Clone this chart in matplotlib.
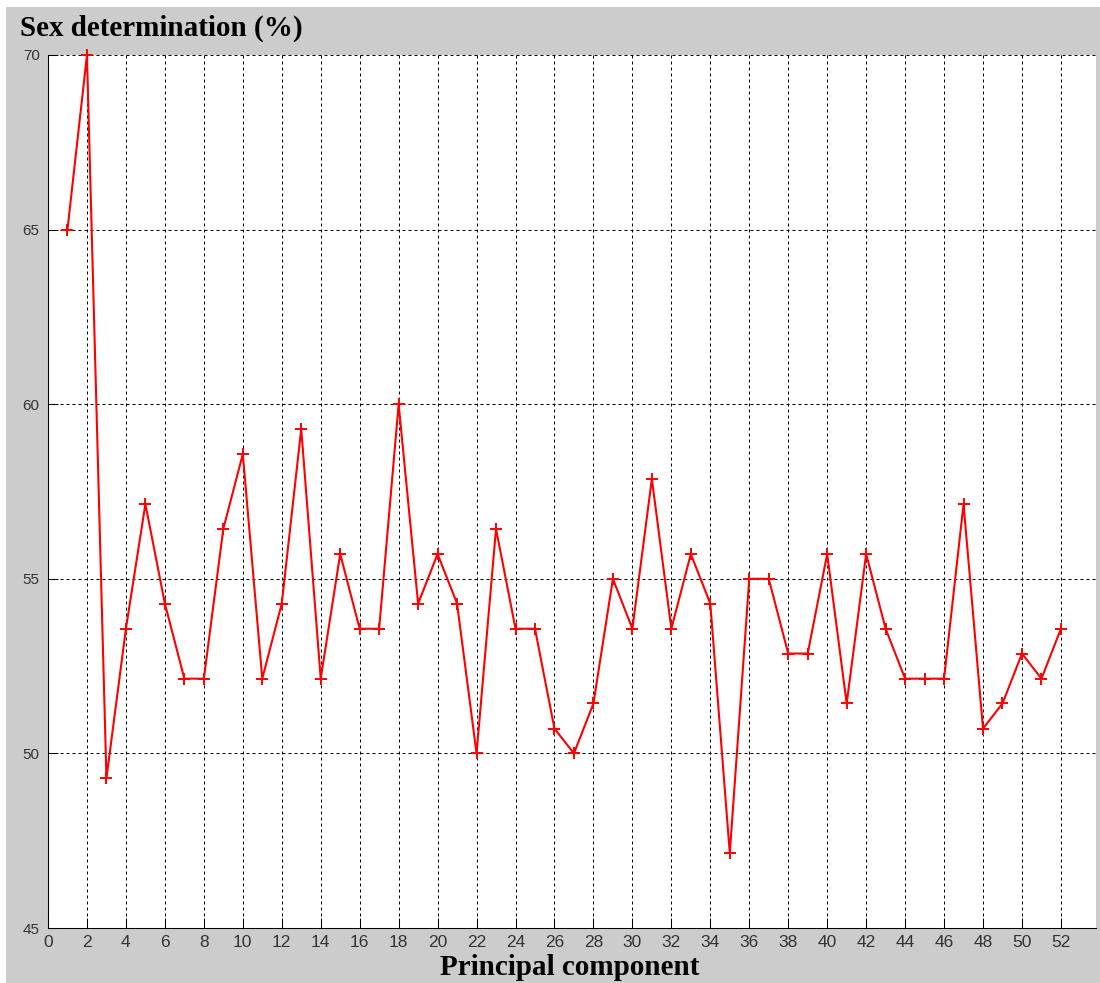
import matplotlib
matplotlib.use("Agg")
import matplotlib.pyplot as plt
from matplotlib.patches import Rectangle

# Classification rate for sex determination per number of principal components
components = list(range(1, 53))
rate = [65.00, 70.00, 49.29, 53.57, 57.14, 54.29, 52.14, 52.14, 56.43, 58.57,
        52.14, 54.29, 59.29, 52.14, 55.71, 53.57, 53.57, 60.00, 54.29, 55.71,
        54.29, 50.00, 56.43, 53.57, 53.57, 50.71, 50.00, 51.43, 55.00, 53.57,
        57.86, 53.57, 55.71, 54.29, 47.14, 55.00, 55.00, 52.86, 52.86, 55.71,
        51.43, 55.71, 53.57, 52.14, 52.14, 52.14, 57.14, 50.71, 51.43, 52.86,
        52.14, 53.57]

x_ticks = list(range(0, 53, 2))
y_ticks = [45, 50, 55, 60, 65, 70]

W, H = 1100, 983
fig = plt.figure(figsize=(W / 100, H / 100), dpi=100, facecolor="#cccccc")

# thin white margin along the top and left edges
fig.patches.append(Rectangle((0, 1 - 7 / H), 1, 7 / H, transform=fig.transFigure,
                             facecolor="white", edgecolor="none", zorder=0))
fig.patches.append(Rectangle((0, 0), 6 / W, 1, transform=fig.transFigure,
                             facecolor="white", edgecolor="none", zorder=0))

ax = fig.add_axes([48 / W, 1 - 928 / H, (1096 - 48) / W, (928 - 55) / H])
ax.set_facecolor("white")

ax.plot(components, rate, color="#ff0000", lw=1.5, marker="+", ms=8, mew=1.4,
        zorder=3, clip_on=False)

ax.set_xlim(0, 53.8)
ax.set_ylim(45, 70)
ax.set_xticks(x_ticks)
ax.set_yticks(y_ticks)

tick_font = ["Liberation Sans Narrow", "Liberation Sans"]
ax.set_xticklabels([str(t) for t in x_ticks], family=tick_font, fontsize=12.5,
                   color="#333333")
ax.set_yticklabels([str(t) for t in y_ticks], family=tick_font, fontsize=11,
                   color="#333333")

ax.tick_params(axis="both", direction="in", length=7.5, width=0.75, color="black")
ax.tick_params(axis="x", pad=5)
ax.tick_params(axis="y", pad=6)

for side in ("top", "right"):
    ax.spines[side].set_visible(False)
for side in ("left", "bottom"):
    ax.spines[side].set_linewidth(0.75)
    ax.spines[side].set_color("black")

ax.grid(True, color="black", lw=0.72, linestyle=(0, (3, 3)), zorder=1)
ax.set_axisbelow(True)

fig.text(20.5 / W, 1 - 36 / H, "Sex determination (%)", family="Liberation Serif",
         weight="bold", fontsize=21, va="baseline", ha="left")
fig.text(569.5 / W, 1 - 975 / H, "Principal component", family="Liberation Serif",
         weight="bold", fontsize=21, va="baseline", ha="center")

fig.savefig("out.png", dpi=100, facecolor=fig.get_facecolor())
